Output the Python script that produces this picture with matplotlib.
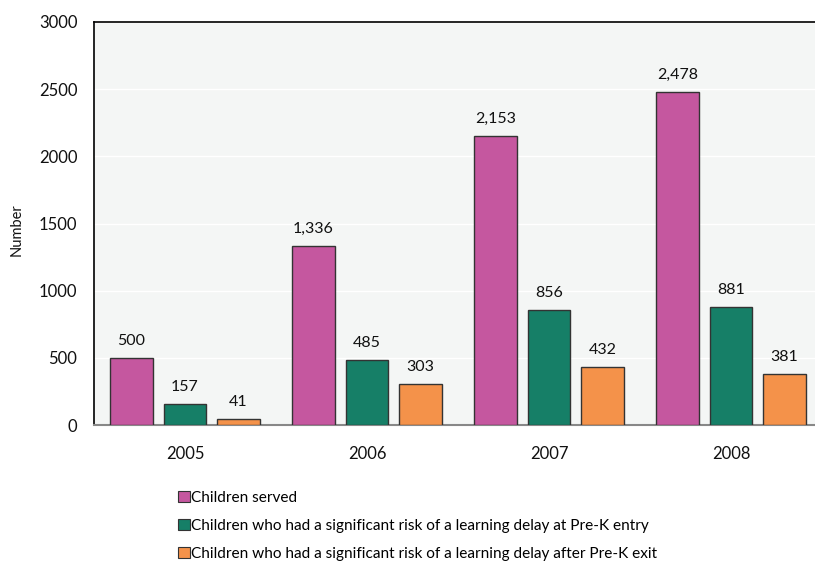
import numpy as np
import matplotlib
matplotlib.use('Agg')
import matplotlib.pyplot as plt
from matplotlib.patches import Patch

# --- Data ---
years = ['2005', '2006', '2007', '2008']
served = [500, 1336, 2153, 2478]
risk_entry = [157, 485, 856, 881]
risk_exit = [41, 303, 432, 381]
series_names = [
    'Children served',
    'Children who had a significant risk of a learning delay at Pre-K entry',
    'Children who had a significant risk of a learning delay after Pre-K exit',
]
colors = ['#c5579f', '#167f67', '#f4924a']

plt.rcParams['font.family'] = ['Lato', 'DejaVu Sans']

fig = plt.figure(figsize=(8.15, 5.62), dpi=100)
# right edge runs just past the image border, as in the reference
ax = fig.add_axes([94 / 815, 1 - 425 / 562, 728 / 815, 403 / 562])
ax.set_facecolor('#f4f6f5')

x = np.arange(len(years))
width = 0.236
offset = 0.294
for k, vals in enumerate([served, risk_entry, risk_exit]):
    pos = x + (k - 1) * offset
    ax.bar(pos, vals, width, color=colors[k], edgecolor='#333333',
           linewidth=1.0, zorder=3)
    for p, v in zip(pos, vals):
        ax.text(p, v + 75, f'{v:,}', ha='center', va='bottom',
                fontsize=11.5, color='#111111')

ax.set_xlim(-0.5, len(years) - 0.5)
ax.set_ylim(0, 3000)
ax.set_yticks(range(0, 3001, 500))
ax.set_xticks(x)
ax.set_xticklabels(years)
ax.tick_params(axis='both', length=0, labelsize=12, colors='#111111')
ax.tick_params(axis='x', pad=15)
ax.tick_params(axis='y', pad=12)
ax.grid(axis='y', color='white', linewidth=1.0, zorder=0)
ax.set_axisbelow(True)

for side in ['left', 'top']:
    ax.spines[side].set_color('black')
    ax.spines[side].set_linewidth(1.2)
ax.spines['bottom'].set_color('#888888')
ax.spines['bottom'].set_linewidth(1.5)
ax.spines['right'].set_visible(False)

fig.text(17 / 815, 1 - 230 / 562, 'Number', rotation=90, ha='center',
         va='center', fontsize=10.5, color='#111111')

handles = [Patch(facecolor=c, edgecolor='#333333', linewidth=0.8) for c in colors]
fig.legend(handles, series_names, loc='upper left',
           bbox_to_anchor=(172 / 815, 1 - 485 / 562), frameon=False,
           fontsize=11.1, handlelength=0.75, handleheight=0.75,
           handletextpad=0.1, labelspacing=0.9, borderaxespad=0)

fig.savefig('out.png', dpi=100)
